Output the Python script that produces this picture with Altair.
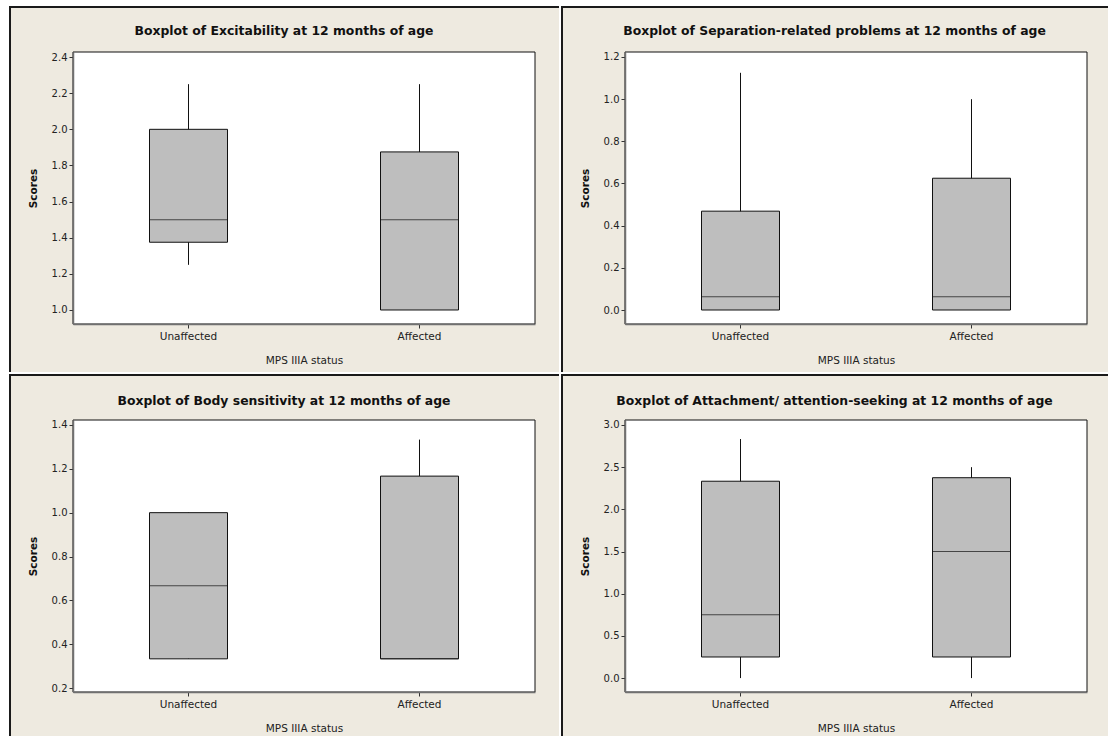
import altair as alt
import pandas as pd

# ---- data -------------------------------------------------------------
groups = ["Unaffected", "Affected"]

titles = [
    "Boxplot of Excitability at 12 months of age",
    "Boxplot of Separation-related problems at 12 months of age",
    "Boxplot of Body sensitivity at 12 months of age",
    "Boxplot of Attachment/ attention-seeking at 12 months of age",
]

# five-number summaries, one value per group (Unaffected, Affected)
excit_min = [1.25, 1.0]
excit_q1 = [1.375, 1.0]
excit_med = [1.5, 1.5]
excit_q3 = [2.0, 1.875]
excit_max = [2.25, 2.25]

sep_min = [0.0, 0.0]
sep_q1 = [0.0, 0.0]
sep_med = [0.0625, 0.0625]
sep_q3 = [0.46875, 0.625]
sep_max = [1.125, 1.0]

body_min = [0.3333, 0.3333]
body_q1 = [0.3333, 0.3333]
body_med = [0.6667, 0.3333]
body_q3 = [1.0, 1.1667]
body_max = [1.0, 1.3333]

attach_min = [0.0, 0.0]
attach_q1 = [0.25, 0.25]
attach_med = [0.75, 1.5]
attach_q3 = [2.3333, 2.375]
attach_max = [2.8333, 2.5]

# axis ticks and ranges
excit_ticks = [1.0, 1.2, 1.4, 1.6, 1.8, 2.0, 2.2, 2.4]
sep_ticks = [0.0, 0.2, 0.4, 0.6, 0.8, 1.0, 1.2]
body_ticks = [0.2, 0.4, 0.6, 0.8, 1.0, 1.2, 1.4]
attach_ticks = [0.0, 0.5, 1.0, 1.5, 2.0, 2.5, 3.0]

excit_domain = [0.9225, 2.428]
sep_domain = [-0.0664, 1.2237]
body_domain = [0.182, 1.4227]
attach_domain = [-0.165, 3.059]

# ---- style ------------------------------------------------------------
BEIGE = "#EEEAE0"
BOX = "#BEBEBE"
FONT = "DejaVu Sans"
W, H = 462, 272
BOX_W = 78


def panel(title, lo, q1, med, q3, hi, ticks, domain, left, right, top, bottom, title_y):
    df = pd.DataFrame({"group": groups, "lo": lo, "q1": q1, "med": med, "q3": q3, "hi": hi})
    one = alt.Data(values=[{"k": 1}])

    x = alt.X(
        "group:N",
        sort=groups,
        scale=alt.Scale(paddingInner=0, paddingOuter=0),
        title="MPS IIIA status",
        axis=alt.Axis(
            labelAngle=0, domain=True, domainColor="#707070", domainWidth=1.5,
            tickSize=4, tickColor="#333333", labelFont=FONT, labelFontSize=10.5,
            labelColor="#222222", labelPadding=3, titleFont=FONT, titleFontSize=10.5,
            titleFontWeight="normal", titleColor="#222222", titlePadding=14,
            grid=False, zindex=1,
        ),
    )
    y_scale = alt.Scale(domain=domain, nice=False, zero=False)
    y_axis = alt.Axis(
        values=ticks, tickCount=len(ticks) + 2, format=".1f",
        domain=True, domainColor="#707070", domainWidth=1.5,
        tickSize=4, tickColor="#333333", labelFont=FONT, labelFontSize=10,
        labelColor="#222222", labelPadding=2, labelOverlap=False,
        titleFont=FONT, titleFontSize=10.5,
        titleFontWeight="bold", titleColor="#111111", titlePadding=13,
        grid=False, zindex=1,
    )

    frame = alt.Chart(one).mark_rect(fill=BEIGE).encode(
        x=alt.value(-left), x2=alt.value(W + right),
        y=alt.value(-top), y2=alt.value(H + bottom),
    )
    plot_bg = alt.Chart(one).mark_rect(fill="white", stroke="#111111", strokeWidth=1).encode(
        x=alt.value(0), x2=alt.value(W), y=alt.value(0), y2=alt.value(H),
    )
    edge_top = alt.Chart(one).mark_rule(color="#1a1a1a", strokeWidth=2).encode(
        x=alt.value(-left), x2=alt.value(W + right), y=alt.value(-top + 1),
    )
    edge_left = alt.Chart(one).mark_rule(color="#1a1a1a", strokeWidth=2).encode(
        x=alt.value(-left + 1), y=alt.value(-top), y2=alt.value(H + bottom),
    )

    base = alt.Chart(df)
    whisker = base.mark_rule(color="#111111", strokeWidth=1).encode(
        x=x,
        y=alt.Y("lo:Q", scale=y_scale, axis=y_axis, title="Scores"),
        y2="hi:Q",
    )
    box = base.mark_bar(size=BOX_W, fill=BOX, stroke="#111111", strokeWidth=1).encode(
        x=x, y=alt.Y("q1:Q"), y2="q3:Q",
    )
    median = base.mark_tick(size=BOX_W, thickness=1, color="#111111").encode(
        x=x, y=alt.Y("med:Q"),
    )

    return alt.layer(frame, plot_bg, edge_top, edge_left, whisker, box, median).properties(
        width=W,
        height=H,
        title=alt.TitleParams(
            text=title, anchor="middle", frame="bounds", offset=-(top - title_y) - 12,
            baseline="middle", font=FONT, fontSize=12.4, fontWeight="bold", color="#111111",
        ),
    )


p1 = panel(titles[0], excit_min, excit_q1, excit_med, excit_q3, excit_max,
           excit_ticks, excit_domain, 64, 24, 46, 48, 20)
p2 = panel(titles[1], sep_min, sep_q1, sep_med, sep_q3, sep_max,
           sep_ticks, sep_domain, 64, 21, 46, 48, 20)
p3 = panel(titles[2], body_min, body_q1, body_med, body_q3, body_max,
           body_ticks, body_domain, 64, 24, 46, 44, 18)
p4 = panel(titles[3], attach_min, attach_q1, attach_med, attach_q3, attach_max,
           attach_ticks, attach_domain, 64, 21, 46, 44, 18)

chart = (
    alt.vconcat(
        alt.hconcat(p1, p2, spacing=0),
        alt.hconcat(p3, p4, spacing=0),
        spacing=0,
    )
    .properties(background="white", padding={"left": 8, "top": 5, "right": 0, "bottom": 0})
    .configure_view(strokeWidth=0)
)

chart.save("out.html", embed_options={"renderer": "svg", "actions": False})
